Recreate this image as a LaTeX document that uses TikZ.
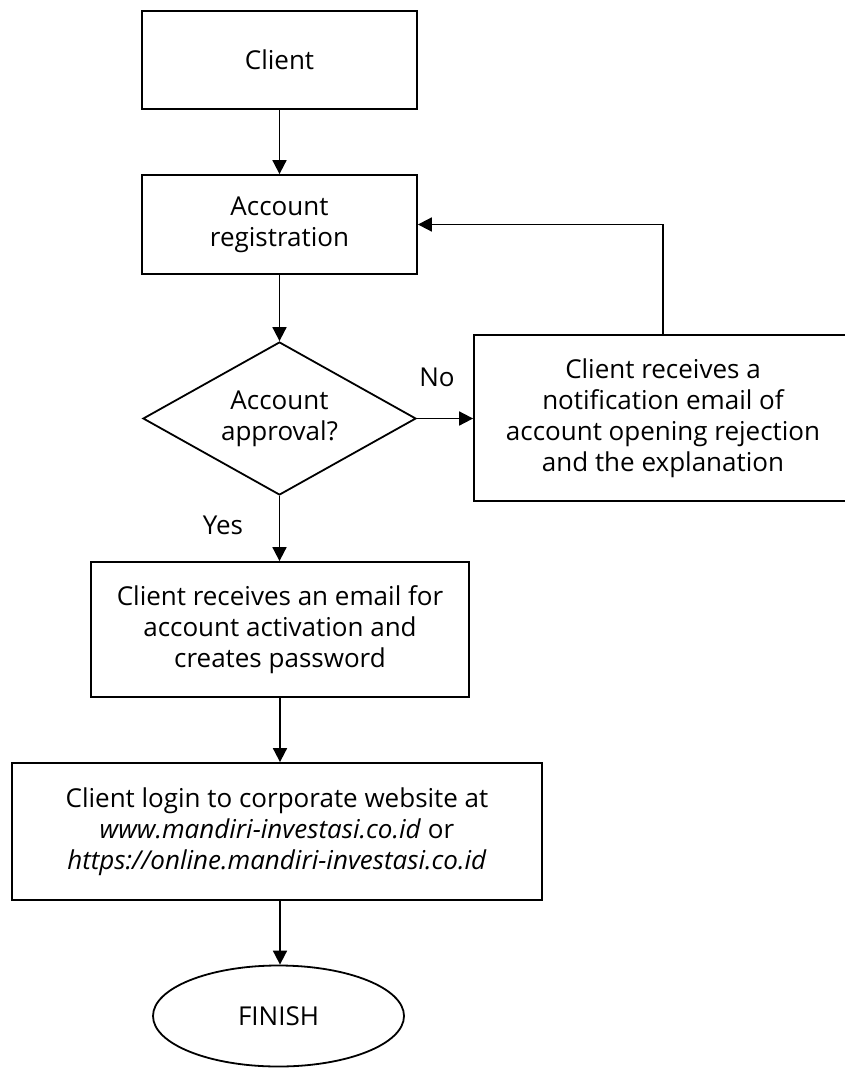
\documentclass[tikz,border=0pt]{standalone}
\usepackage{fontspec}
\setmainfont{Open Sans}
\usetikzlibrary{shapes.geometric,arrows.meta}

\begin{document}
\begin{tikzpicture}[x=1pt,y=-1pt,
    every node/.style={font={\fontsize{26}{31}\selectfont}},
    box/.style={draw,line width=1.8pt,align=center,inner sep=0pt},
    arr/.style={line width=1.8pt,-{Triangle[length=14pt,width=14pt]}}]
      \useasboundingbox (0,0) rectangle (844,1068);
      % Boxes
      \node[box,minimum width=275pt,minimum height=98pt] (client) at (279.5,60) {Client};
      \node[box,minimum width=275pt,minimum height=99pt] (reg) at (279.5,224.5) {Account\\registration};
      \node[box,diamond,aspect=1.784,minimum width=273pt,minimum height=153pt] (approve) at (279.5,418.5) {Account\\approval?};
      \node[box,minimum width=378pt,minimum height=166pt] (reject) at (663,418) {Client receives a\\notification email of\\account opening rejection\\and the explanation};
      \node[box,minimum width=378pt,minimum height=135pt] (activate) at (280,629.5) {Client receives an email for\\account activation and\\creates password};
      \node[box,minimum width=530pt,minimum height=137pt] (login) at (277,831.5) {Client login to corporate website at\\\textit{www.mandiri-investasi.co.id} or\\\textit{https://online.mandiri-investasi.co.id}};
      \node[box,ellipse,minimum width=251pt,minimum height=101pt] (finish) at (278.5,1016) {FINISH};
      % Labels
      \node (no) at (437,377) {No};
      \node (yes) at (223,525) {Yes};
      % Arrows
      \draw[arr] (client.south) -- (client.south |- reg.north);
      \draw[arr] (reg.south) -- (reg.south |- approve.north);
      \draw[arr] (approve.east) -- (reject.west |- approve.east);
      \draw[arr] (approve.south) -- (approve.south |- activate.north);
      \draw[arr] (activate.south) -- (activate.south |- login.north);
      \draw[arr] (activate.south |- login.south) -- (activate.south |- finish.north);
      % Loop back
      \draw[arr] (reject.north) |- (reg.east);
    \end{tikzpicture}
\end{document}
